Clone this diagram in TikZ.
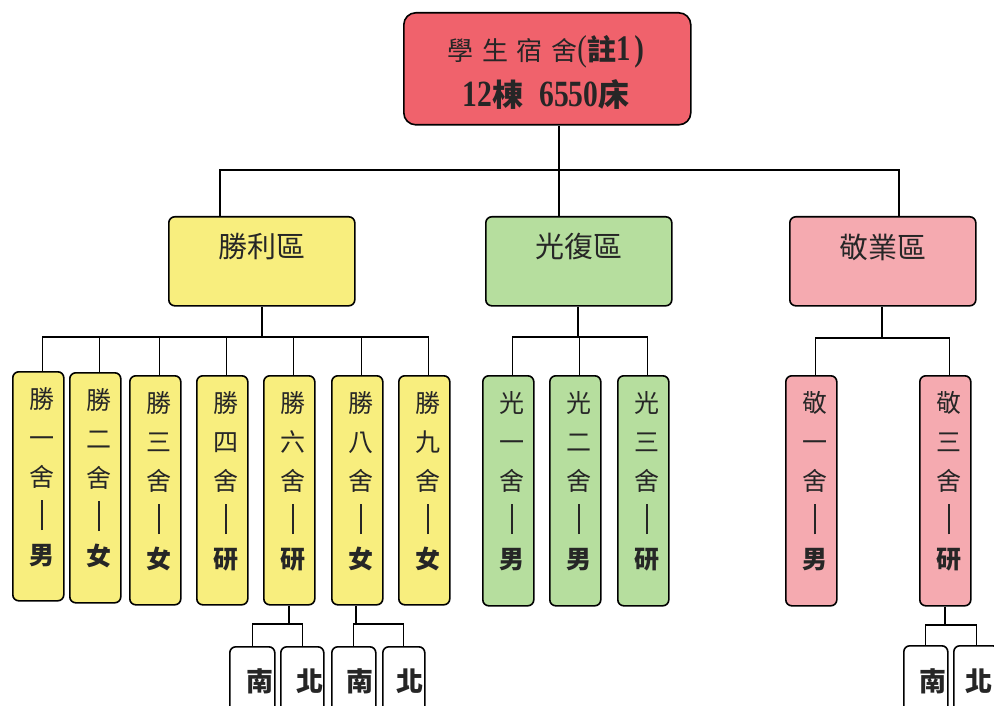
\documentclass[tikz,border=0pt]{standalone}
\usepackage{fontspec}
\newfontfamily\cjk{Noto Sans CJK TC}
\newfontfamily\numf[FakeStretch=0.8]{Liberation Serif}
\definecolor{topred}{HTML}{F0626C}
\definecolor{syellow}{HTML}{F8EE7E}
\definecolor{sgreen}{HTML}{B6DE9E}
\definecolor{spink}{HTML}{F5AAB0}
\tikzset{
  box/.style={draw=black, line width=1.6pt, rounded corners=6pt, inner sep=0pt, anchor=north west},
  topbox/.style={box, fill=topred, rounded corners=12pt, minimum width=287pt, minimum height=112pt},
  zonebox/.style={box, minimum width=186pt, minimum height=89pt},
  dormbox/.style={box, minimum width=51pt, minimum height=229pt},
  subbox/.style={box, fill=white, minimum height=100pt},
  conn/.style={draw=black, line width=1.3pt},
  thickconn/.style={draw=black, line width=2.6pt},
  vt/.style={font=\cjk\fontsize{25}{39}\selectfont, align=center, anchor=north, inner sep=0pt, text=black!85},
  zt/.style={font=\cjk\fontsize{29}{29}\selectfont, inner sep=0pt, text=black!85},
  st/.style={font=\cjk\bfseries\fontsize{27}{27}\selectfont, inner sep=0pt, text=black!85},
}
\newcommand{\vbar}{\rule[-5pt]{1.8pt}{30pt}}
\begin{document}
\begin{tikzpicture}[x=1pt,y=-1pt]
\clip (0,0) rectangle (994,706);
\fill[white] (0,0) rectangle (994,706);

% top box
\node[topbox] (top) at (403,12) {};
\node[inner sep=0pt, text=black!85] (topl1) at (546,52) {\cjk\fontsize{26}{26}\selectfont 學\hspace{8.5pt}生\hspace{8.5pt}宿\hspace{8.5pt}舍{\numf\fontsize{36}{36}\selectfont(}{\fontsize{29}{29}\selectfont\textbf{註}}{\numf\bfseries\fontsize{36}{36}\selectfont 1\hspace{4pt})}};
\node[inner sep=0pt, text=black!85] (topl2) at (546,95) {{\numf\bfseries\fontsize{37}{37}\selectfont 12}{\cjk\bfseries\fontsize{31}{31}\selectfont 棟}\hspace{16pt}{\numf\bfseries\fontsize{37}{37}\selectfont 6550}{\cjk\bfseries\fontsize{31}{31}\selectfont 床}};

% zone boxes
\node[zonebox, fill=syellow] (d1) at (168,216) {};
\node[zonebox, fill=sgreen] (d2) at (485,216) {};
\node[zonebox, fill=spink] (d3) at (789,216) {};
\node[zt] (d1t) at ([yshift=-31pt]d1.north) {勝利區};
\node[zt] (d2t) at ([yshift=-31pt]d2.north) {光復區};
\node[zt] (d3t) at ([yshift=-31pt]d3.north) {敬業區};

% top connectors
\coordinate (j0) at (559,170);
\coordinate (jL) at (220,170);
\coordinate (jR) at (899,170);
\draw[conn] (top.south -| j0) -- (j0);
\draw[conn] (d1.north -| jL) -- (jL) -- (jR) -- (d3.north -| jR);
\draw[conn] (j0) -- (d2.north -| j0);

% dorm boxes
\node[dormbox, fill=syellow, minimum height=229pt] (s1) at (12,371) {};
\node[dormbox, fill=syellow, minimum height=230pt] (s2) at (69,372) {};
\node[dormbox, fill=syellow] (s3) at (129,375) {};
\node[dormbox, fill=syellow] (s4) at (196,375) {};
\node[dormbox, fill=syellow] (s6) at (263,375) {};
\node[dormbox, fill=syellow] (s8) at (331,375) {};
\node[dormbox, fill=syellow] (s9) at (398,375) {};
\node[dormbox, fill=sgreen, minimum height=230pt] (g1) at (482,375) {};
\node[dormbox, fill=sgreen, minimum height=230pt] (g2) at (549,375) {};
\node[dormbox, fill=sgreen, minimum height=230pt] (g3) at (617,375) {};
\node[dormbox, fill=spink, minimum height=230pt] (k1) at (785,375) {};
\node[dormbox, fill=spink, minimum height=230pt] (k3) at (919,375) {};

\node[vt] (s1t) at ([xshift=4pt,yshift=-16pt]s1.north) {勝\\一\\舍\\\vbar\\\textbf{男}};
\node[vt] (s2t) at ([xshift=4pt,yshift=-16pt]s2.north) {勝\\二\\舍\\\vbar\\\textbf{女}};
\node[vt] (s3t) at ([xshift=4pt,yshift=-16pt]s3.north) {勝\\三\\舍\\\vbar\\\textbf{女}};
\node[vt] (s4t) at ([xshift=4pt,yshift=-16pt]s4.north) {勝\\四\\舍\\\vbar\\\textbf{研}};
\node[vt] (s6t) at ([xshift=4pt,yshift=-16pt]s6.north) {勝\\六\\舍\\\vbar\\\textbf{研}};
\node[vt] (s8t) at ([xshift=4pt,yshift=-16pt]s8.north) {勝\\八\\舍\\\vbar\\\textbf{女}};
\node[vt] (s9t) at ([xshift=4pt,yshift=-16pt]s9.north) {勝\\九\\舍\\\vbar\\\textbf{女}};
\node[vt] (g1t) at ([xshift=4pt,yshift=-16pt]g1.north) {光\\一\\舍\\\vbar\\\textbf{男}};
\node[vt] (g2t) at ([xshift=4pt,yshift=-16pt]g2.north) {光\\二\\舍\\\vbar\\\textbf{男}};
\node[vt] (g3t) at ([xshift=4pt,yshift=-16pt]g3.north) {光\\三\\舍\\\vbar\\\textbf{研}};
\node[vt] (k1t) at ([xshift=4pt,yshift=-16pt]k1.north) {敬\\一\\舍\\\vbar\\\textbf{男}};
\node[vt] (k3t) at ([xshift=4pt,yshift=-16pt]k3.north) {敬\\三\\舍\\\vbar\\\textbf{研}};

% zone -> dorm connectors
\coordinate (h1) at (262,337);
\coordinate (h2) at (578,337);
\coordinate (h3) at (882,338);
\draw[thickconn] (d1.south -| h1) -- (h1);
\draw[thickconn] (d2.south -| h2) -- (h2);
\draw[line width=2pt] (d3.south -| h3) -- (h3);
\draw[conn] (s1.north -| s1t) -- (s1t |- h1) -- (s9t |- h1) -- (s9.north -| s9t);
\foreach \n in {s2,s3,s4,s6,s8}{\draw[conn] (\n t |- h1) -- (\n.north -| \n t);}
\draw[conn] (g1.north -| g1t) -- (g1t |- h2) -- (g3t |- h2) -- (g3.north -| g3t);
\draw[conn] (g2t |- h2) -- (g2.north -| g2t);
\draw[conn] (k1.north -| k1t) -- (k1t |- h3) -- (k3t |- h3) -- (k3.north -| k3t);

% sub boxes
\node[subbox, minimum width=45pt] (n6) at (229,646) {};
\node[subbox, minimum width=43pt] (b6) at (280,646) {};
\node[subbox, minimum width=44pt] (n8) at (331,646) {};
\node[subbox, minimum width=42pt] (b8) at (382,646) {};
\node[subbox, minimum width=44pt] (nk) at (903,645) {};
\node[subbox, minimum width=45pt] (bk) at (953,645) {};
\node[st] (n6t) at (260,681) {南};
\node[st] (b6t) at (310,681) {北};
\node[st] (n8t) at (360,681) {南};
\node[st] (b8t) at (410,681) {北};
\node[st] (nkt) at (933,681) {南};
\node[st] (bkt) at (979,681) {北};

\coordinate (m6) at (289,624);
\coordinate (m8) at (356,624);
\coordinate (mk) at (945,625);
\draw[conn] (s6.south -| m6) -- (m6);
\draw[conn] (n6.north) -- (n6.north |- m6) -- (b6.north |- m6) -- (b6.north);
\draw[conn] (s8.south -| m8) -- (m8);
\draw[conn] (n8.north) -- (n8.north |- m8) -- (b8.north |- m8) -- (b8.north);
\draw[conn] (k3.south -| mk) -- (mk);
\draw[conn] (nk.north) -- (nk.north |- mk) -- (bk.north |- mk) -- (bk.north);
\end{tikzpicture}
\end{document}
